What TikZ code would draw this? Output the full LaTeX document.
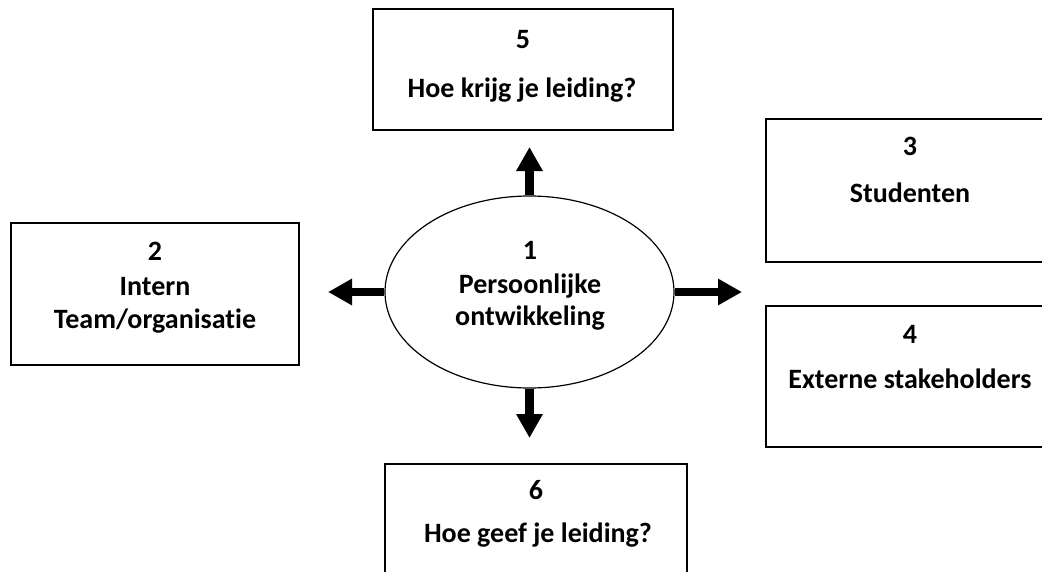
\documentclass[tikz,border=0pt]{standalone}
\usepackage{fontspec}
\setmainfont{Carlito}[Ligatures=NoCommon]
\usetikzlibrary{arrows.meta,shapes.geometric}
\begin{document}
\begin{tikzpicture}[x=1pt,y=-1pt,
  box/.style={draw=black,line width=1.7pt,inner sep=0pt,fill=none},
  oval/.style={draw=black,line width=1.2pt,ellipse,inner sep=0pt},
  lbl/.style={anchor=base,inner sep=0pt,font=\fontsize{28}{33}\selectfont\bfseries},
  bigarrow/.style={line width=8.5pt,-{Triangle[length=24pt,width=25pt]}}]
\useasboundingbox (0,0) rectangle (1042,571);
\clip (0,0) rectangle (1042,571);
\fill[white] (0,0) rectangle (1042,571);
% boxes
\node (b5) [box,minimum width=300pt,minimum height=121pt] at (523,69.5) {};
\node (b3) [box,minimum width=288pt,minimum height=143pt] at (910,190.5) {};
\node (b4) [box,minimum width=288pt,minimum height=141pt] at (910,376.5) {};
\node (b2) [box,minimum width=288pt,minimum height=142pt] at (155,294) {};
\node (b6) [box,minimum width=302pt,minimum height=150pt] at (536,539) {};
\node (e) [oval,minimum width=289pt,minimum height=192pt] at (529.5,292) {};
% labels
\node (t5a) [lbl] at (523,48) {5};
\node (t5b) [lbl] at (522,97) {Hoe krijg je leiding?};
\node (t3a) [lbl] at (910,155) {3};
\node (t3b) [lbl] at (910,202) {Studenten};
\node (t4a) [lbl] at (910,343) {4};
\node (t4b) [lbl] at (910,388) {Externe stakeholders};
\node (t2a) [lbl] at (155,260) {2};
\node (t2b) [lbl] at (155,295) {Intern};
\node (t2c) [lbl] at (155,328) {Team/organisatie};
\node (t6a) [lbl] at (536,499) {6};
\node (t6b) [lbl] at (538,542) {Hoe geef je leiding?};
\node (t1a) [lbl] at (530,259) {1};
\node (t1b) [lbl] at (530,293) {Persoonlijke};
\node (t1c) [lbl] at (530,325) {ontwikkeling};
% arrow ends
\coordinate (a5) at (529.5,147);
\coordinate (a6) at (529.5,438);
\coordinate (a2) at (328,292);
\coordinate (a3) at (742,292);
\draw[bigarrow] (e.north) -- (a5);
\draw[bigarrow] (e.south) -- (a6);
\draw[bigarrow] (e.west) -- (a2);
\draw[bigarrow] (e.east) -- (a3);
\end{tikzpicture}
\end{document}
